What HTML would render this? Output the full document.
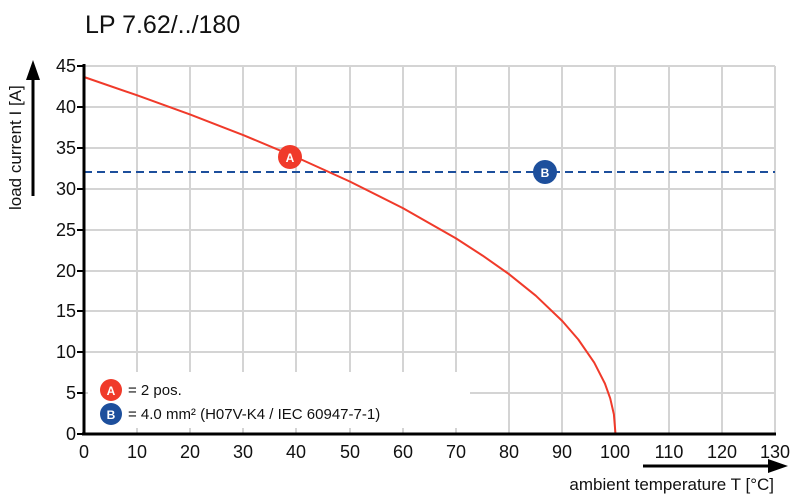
<!DOCTYPE html>
<html><head><style>body{margin:0;background:#fff}svg{display:block;font-family:"Liberation Sans",sans-serif}</style></head><body>
<svg width="800" height="500" viewBox="0 0 800 500">
<text x="85" y="33" font-size="25" fill="#111">LP 7.62/../180</text>
<g stroke="#d4d4d4" stroke-width="2">
<line x1="137" y1="66" x2="137" y2="434"/><line x1="190" y1="66" x2="190" y2="434"/><line x1="243" y1="66" x2="243" y2="434"/><line x1="296" y1="66" x2="296" y2="434"/><line x1="350" y1="66" x2="350" y2="434"/><line x1="403" y1="66" x2="403" y2="434"/><line x1="456" y1="66" x2="456" y2="434"/><line x1="509" y1="66" x2="509" y2="434"/><line x1="562" y1="66" x2="562" y2="434"/><line x1="615" y1="66" x2="615" y2="434"/><line x1="669" y1="66" x2="669" y2="434"/><line x1="722" y1="66" x2="722" y2="434"/><line x1="775" y1="66" x2="775" y2="434"/>
<line x1="84" y1="66" x2="775" y2="66"/><line x1="84" y1="107" x2="775" y2="107"/><line x1="84" y1="148" x2="775" y2="148"/><line x1="84" y1="189" x2="775" y2="189"/><line x1="84" y1="230" x2="775" y2="230"/><line x1="84" y1="271" x2="775" y2="271"/><line x1="84" y1="311" x2="775" y2="311"/><line x1="84" y1="352" x2="775" y2="352"/><line x1="84" y1="393" x2="775" y2="393"/>
</g>
<rect x="88" y="372" width="382" height="56" fill="#fff"/>
<line x1="84" y1="172" x2="775" y2="172" stroke="#1d4f9c" stroke-width="2" stroke-dasharray="8,5"/>
<path d="M84,77 L137.2,95.3 L190.3,114.6 L243.5,135.2 L296.6,157.4 L349.8,181.5 L402.9,208.1 L456,238.4 L482.6,255.6 L509.2,274.3 L535.8,295.7 L562.4,321.1 L578.3,339.5 L594.2,362.6 L604.9,383.5 L610.2,398.3 L613.9,414.4 L615.5,434" fill="none" stroke="#f03a2a" stroke-width="2" stroke-linejoin="round"/>
<g stroke="#000" stroke-width="3"><line x1="84" y1="64" x2="84" y2="435"/><line x1="82" y1="434" x2="776" y2="434"/></g>
<g stroke="#000" stroke-width="2">
<line x1="77" y1="66" x2="84" y2="66"/><line x1="77" y1="107" x2="84" y2="107"/><line x1="77" y1="148" x2="84" y2="148"/><line x1="77" y1="189" x2="84" y2="189"/><line x1="77" y1="230" x2="84" y2="230"/><line x1="77" y1="271" x2="84" y2="271"/><line x1="77" y1="311" x2="84" y2="311"/><line x1="77" y1="352" x2="84" y2="352"/><line x1="77" y1="393" x2="84" y2="393"/><line x1="77" y1="434" x2="84" y2="434"/>
</g>
<g font-size="18" text-anchor="end" fill="#111">
<text x="76" y="72">45</text><text x="76" y="113">40</text><text x="76" y="154">35</text><text x="76" y="195">30</text><text x="76" y="236">25</text><text x="76" y="277">20</text><text x="76" y="317">15</text><text x="76" y="358">10</text><text x="76" y="399">5</text><text x="76" y="440">0</text>
</g>
<g font-size="18" text-anchor="middle" fill="#111">
<text x="84" y="458">0</text><text x="137" y="458">10</text><text x="190" y="458">20</text><text x="243" y="458">30</text><text x="296" y="458">40</text><text x="350" y="458">50</text><text x="403" y="458">60</text><text x="456" y="458">70</text><text x="509" y="458">80</text><text x="562" y="458">90</text><text x="615" y="458">100</text><text x="669" y="458">110</text><text x="722" y="458">120</text><text x="775" y="458">130</text>
</g>
<line x1="33" y1="196" x2="33" y2="78" stroke="#000" stroke-width="3"/><polygon points="33,60 26,80 40,80" fill="#000"/>
<text transform="translate(21,210) rotate(-90)" font-size="17" fill="#111">load current I [A]</text>
<line x1="643" y1="466" x2="770" y2="466" stroke="#000" stroke-width="3"/><polygon points="788,466 768,459 768,473" fill="#000"/>
<text x="774" y="490" font-size="17" text-anchor="end" fill="#111">ambient temperature T [°C]</text>
<circle cx="290" cy="157" r="12" fill="#f03a2a"/><text x="290" y="162" font-size="12" font-weight="bold" fill="#fff" text-anchor="middle">A</text>
<circle cx="545" cy="172" r="12" fill="#1d4f9c"/><text x="545" y="177" font-size="12" font-weight="bold" fill="#fff" text-anchor="middle">B</text>
<circle cx="111" cy="390" r="11" fill="#f03a2a"/><text x="111" y="395" font-size="12" font-weight="bold" fill="#fff" text-anchor="middle">A</text>
<circle cx="111" cy="414" r="11" fill="#1d4f9c"/><text x="111" y="419" font-size="12" font-weight="bold" fill="#fff" text-anchor="middle">B</text>
<text x="128" y="395" font-size="15" fill="#111">= 2 pos.</text>
<text x="128" y="419" font-size="15" fill="#111">= 4.0 mm² (H07V-K4 / IEC 60947-7-1)</text>
</svg>
</body></html>
